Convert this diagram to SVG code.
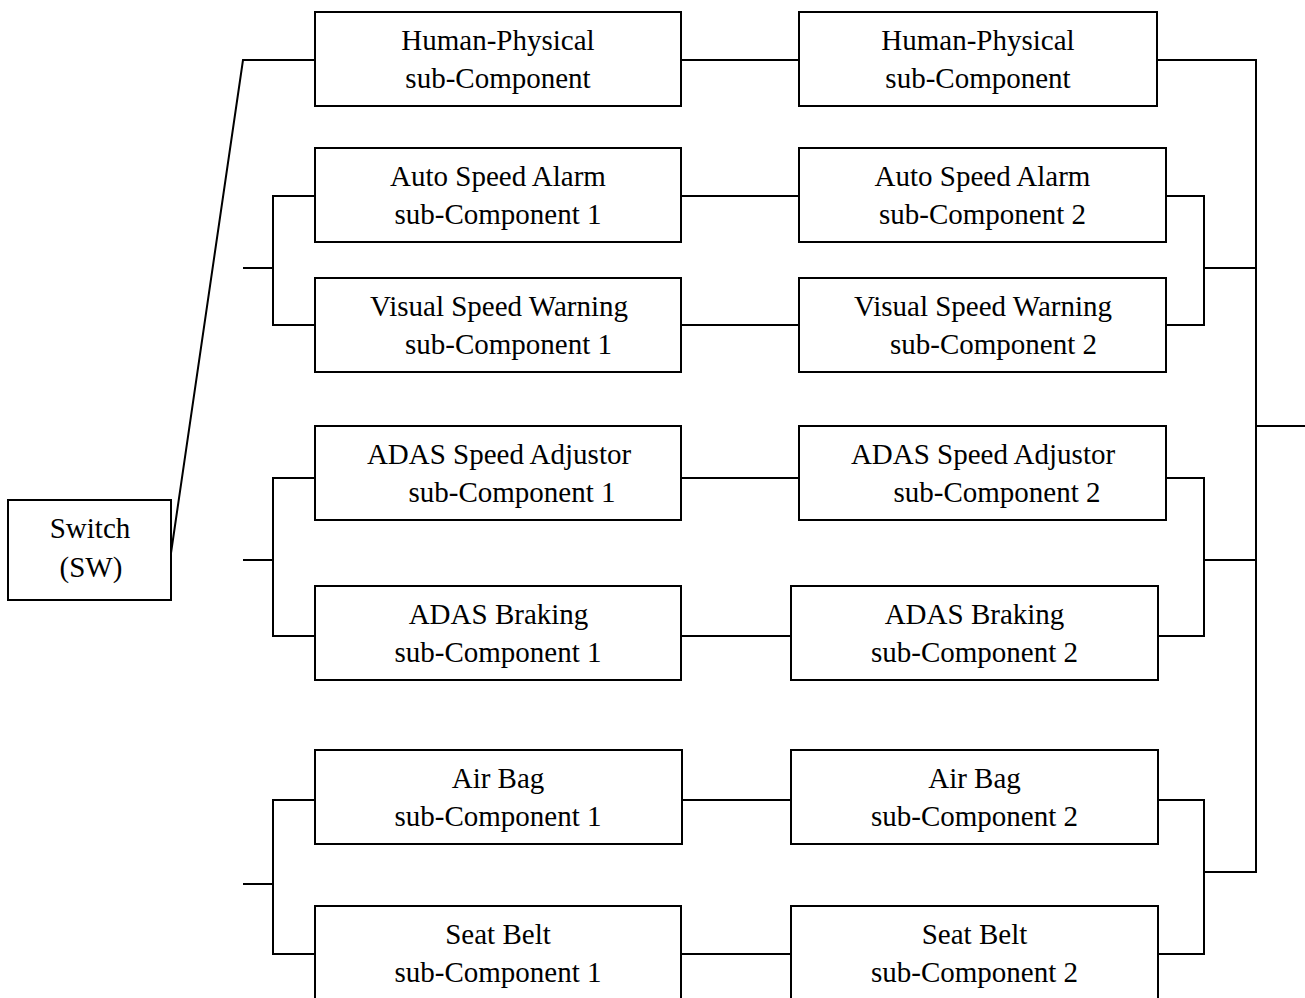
<svg xmlns="http://www.w3.org/2000/svg" width="1305" height="998" viewBox="0 0 1305 998">
<style>
.box{fill:#fff;stroke:#000;stroke-width:2}
.ln{fill:none;stroke:#000;stroke-width:2}
text{font-family:"Liberation Serif","Times New Roman",serif;font-size:29px;fill:#000;text-anchor:middle}
</style>
<rect width="1305" height="998" fill="#fff"/>
<g id="connectors" class="ln">
<polyline points="171,553 243,60 315,60"/>
<line x1="681" y1="60" x2="799" y2="60"/>
<polyline points="1157,60 1256,60 1256,872 1204,872"/>
<line x1="1256" y1="426" x2="1305" y2="426"/>
<line x1="243" y1="268" x2="273" y2="268"/>
<polyline points="315,196 273,196 273,325 315,325"/>
<line x1="681" y1="196" x2="799" y2="196"/>
<line x1="681" y1="325" x2="799" y2="325"/>
<polyline points="1166,196 1204,196 1204,325 1166,325"/>
<line x1="1204" y1="268" x2="1256" y2="268"/>
<line x1="243" y1="560" x2="273" y2="560"/>
<polyline points="315,478 273,478 273,636 315,636"/>
<line x1="681" y1="478" x2="799" y2="478"/>
<line x1="681" y1="636" x2="791" y2="636"/>
<polyline points="1166,478 1204,478 1204,636 1158,636"/>
<line x1="1204" y1="560" x2="1256" y2="560"/>
<line x1="243" y1="884" x2="273" y2="884"/>
<polyline points="315,800 273,800 273,954 315,954"/>
<line x1="682" y1="800" x2="791" y2="800"/>
<line x1="681" y1="954" x2="791" y2="954"/>
<polyline points="1158,800 1204,800 1204,954 1158,954"/>
</g>
<g id="switch"><rect class="box" x="8" y="500" width="163" height="100"/><text x="90" y="538">Switch</text><text x="91" y="577">(SW)</text></g>
<g id="human1"><rect class="box" x="315" y="12" width="366" height="94"/><text x="498" y="50">Human-Physical</text><text x="498" y="88">sub-Component</text></g>
<g id="human2"><rect class="box" x="799" y="12" width="358" height="94"/><text x="978" y="50">Human-Physical</text><text x="978" y="88">sub-Component</text></g>
<g id="auto1"><rect class="box" x="315" y="148" width="366" height="94"/><text x="498" y="186">Auto Speed Alarm</text><text x="498" y="224">sub-Component 1</text></g>
<g id="auto2"><rect class="box" x="799" y="148" width="367" height="94"/><text x="982.5" y="186">Auto Speed Alarm</text><text x="982.5" y="224">sub-Component 2</text></g>
<g id="visual1"><rect class="box" x="315" y="278" width="366" height="94"/><text x="499" y="316">Visual Speed Warning</text><text x="508.5" y="354">sub-Component 1</text></g>
<g id="visual2"><rect class="box" x="799" y="278" width="367" height="94"/><text x="983" y="316">Visual Speed Warning</text><text x="993.5" y="354">sub-Component 2</text></g>
<g id="adas-sa1"><rect class="box" x="315" y="426" width="366" height="94"/><text x="499" y="464">ADAS Speed Adjustor</text><text x="512" y="502">sub-Component 1</text></g>
<g id="adas-sa2"><rect class="box" x="799" y="426" width="367" height="94"/><text x="983" y="464">ADAS Speed Adjustor</text><text x="997" y="502">sub-Component 2</text></g>
<g id="adas-br1"><rect class="box" x="315" y="586" width="366" height="94"/><text x="498.5" y="624">ADAS Braking</text><text x="498" y="662">sub-Component 1</text></g>
<g id="adas-br2"><rect class="box" x="791" y="586" width="367" height="94"/><text x="974.5" y="624">ADAS Braking</text><text x="974.5" y="662">sub-Component 2</text></g>
<g id="airbag1"><rect class="box" x="315" y="750" width="367" height="94"/><text x="498" y="788">Air Bag</text><text x="498" y="826">sub-Component 1</text></g>
<g id="airbag2"><rect class="box" x="791" y="750" width="367" height="94"/><text x="974.5" y="788">Air Bag</text><text x="974.5" y="826">sub-Component 2</text></g>
<g id="seatbelt1"><rect class="box" x="315" y="906" width="366" height="96"/><text x="498" y="944">Seat Belt</text><text x="498" y="982">sub-Component 1</text></g>
<g id="seatbelt2"><rect class="box" x="791" y="906" width="367" height="96"/><text x="974.5" y="944">Seat Belt</text><text x="974.5" y="982">sub-Component 2</text></g>
</svg>
